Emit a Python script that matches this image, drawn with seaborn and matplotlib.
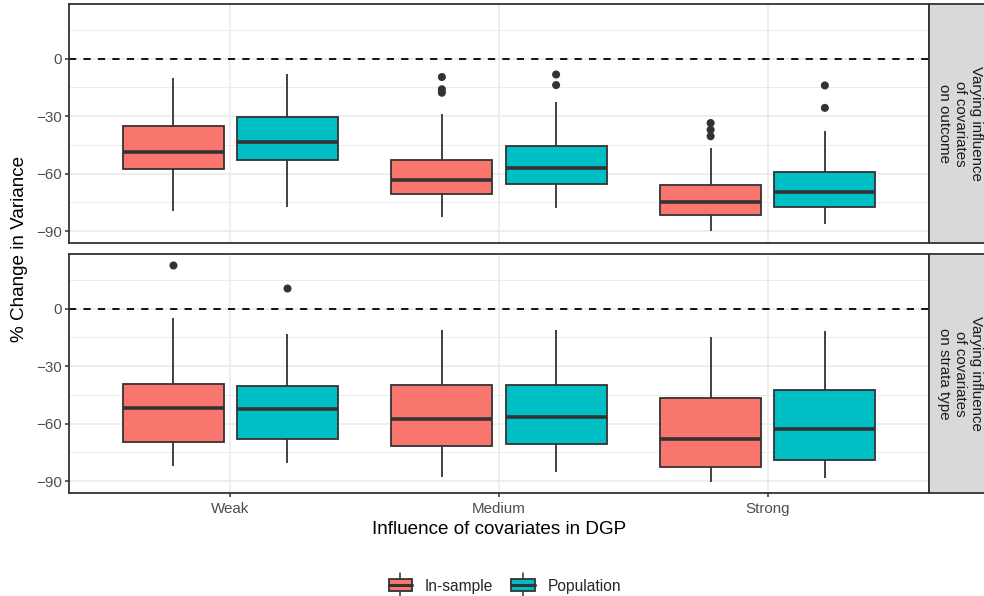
import numpy as np
import pandas as pd
import seaborn as sns
import matplotlib.pyplot as plt
from matplotlib.lines import Line2D
from matplotlib.patches import Patch, Rectangle
from matplotlib.ticker import FixedLocator

# =====================================
# DATA
# =====================================

strengths = ["Weak", "Medium", "Strong"]
methods = ["In-sample", "Population"]
colors = ["#F8766D", "#00BFC4"]
panel_labels = [
    "Varying influence\nof covariates\non outcome",
    "Varying influence\nof covariates\non strata type",
]
y_ticks = [0, -30, -60, -90]
y_minor = [15, -15, -45, -75]

# lower whisker, Q1, median, Q3, upper whisker -> Weak, Medium, Strong
outcome_in_sample = [
    [-79.5, -57.6, -48.8, -35.2, -10.3],
    [-82.4, -70.7, -63.3, -52.8, -29.0],
    [-89.7, -81.6, -75.0, -66.1, -46.7],
]
outcome_population = [
    [-77.2, -53.1, -43.3, -30.7, -7.8],
    [-78.1, -65.2, -57.1, -45.5, -22.6],
    [-86.4, -77.2, -69.5, -59.0, -37.9],
]
strata_in_sample = [
    [-82.1, -69.7, -51.7, -39.3, -4.8],
    [-87.6, -71.7, -57.6, -39.8, -11.0],
    [-90.2, -82.8, -67.8, -46.7, -14.8],
]
strata_population = [
    [-80.3, -67.9, -52.6, -40.2, -13.1],
    [-85.5, -70.4, -56.6, -39.8, -11.2],
    [-88.5, -79.0, -62.6, -42.6, -11.5],
]

# outliers
outcome_in_sample_out = [[], [-9.6, -16.0, -17.8], [-33.6, -37.1, -40.5]]
outcome_population_out = [[], [-8.3, -13.8], [-14.0, -25.7]]
strata_in_sample_out = [[22.9], [], []]
strata_population_out = [[10.9], [], []]


def long_frame(in_sample, population):
    rows = []
    for method, groups in zip(methods, [in_sample, population]):
        for strength, vals in zip(strengths, groups):
            for v in vals:
                rows.append((strength, method, v))
    return pd.DataFrame(rows, columns=["strength", "method", "value"])


panels = [
    (long_frame(outcome_in_sample, outcome_population),
     long_frame(outcome_in_sample_out, outcome_population_out)),
    (long_frame(strata_in_sample, strata_population),
     long_frame(strata_in_sample_out, strata_population_out)),
]

# =====================================
# STYLE
# =====================================

sns.set_theme(style="white")
plt.rcParams["font.family"] = ["Liberation Sans", "DejaVu Sans"]

dark = "#333333"
grid_col = "#EBEBEB"
lw = 1.3
box_width = 0.85

fig = plt.figure(figsize=(9.84, 5.96), dpi=100)
W, H = 984, 596


def px_axes(x0, y0, x1, y1):
    return fig.add_axes([x0 / W, 1 - y1 / H, (x1 - x0) / W, (y1 - y0) / H])


panel_rows = [(4, 243), (254, 493)]

for i, ((box_df, out_df), (top, bottom)) in enumerate(zip(panels, panel_rows)):
    ax = px_axes(69, top, 929, bottom)

    sns.boxplot(
        data=box_df, x="strength", y="value", hue="method",
        order=strengths, hue_order=methods, palette=colors,
        saturation=1, width=box_width, gap=0.115, whis=(0, 100),
        showfliers=False, showcaps=False, linewidth=lw, linecolor=dark,
        medianprops=dict(linewidth=2.6, color=dark),
        legend=False, ax=ax,
    )

    n_before = len(ax.collections)
    sns.stripplot(
        data=out_df, x="strength", y="value", hue="method",
        order=strengths, hue_order=methods, palette=[dark, dark],
        dodge=True, jitter=False, size=5.8, linewidth=0,
        legend=False, ax=ax,
    )
    # stripplot dodges with width .8, boxes use box_width
    for coll in ax.collections[n_before:]:
        off = coll.get_offsets()
        if len(off) == 0:
            continue
        base = np.round(off[:, 0])
        off[:, 0] = base + (off[:, 0] - base) * (box_width / 0.8)
        coll.set_offsets(off)

    ax.axhline(0, color="black", lw=lw, ls=(0, (4, 4)), zorder=1.5)

    ax.set_xlim(-0.6, 2.6)
    ax.set_ylim(-96.2, 28.5)
    ax.yaxis.set_major_locator(FixedLocator(y_ticks))
    ax.yaxis.set_minor_locator(FixedLocator(y_minor))
    ax.set_axisbelow(True)
    ax.grid(which="major", color=grid_col, lw=1.2)
    ax.grid(which="minor", axis="y", color=grid_col, lw=0.7)

    for sp in ax.spines.values():
        sp.set_color(dark)
        sp.set_linewidth(lw)

    ax.tick_params(axis="y", which="major", length=2.6, width=1.1,
                   color=dark, labelsize=10.9, labelcolor="#4D4D4D", pad=2.5, left=True)
    ax.tick_params(axis="y", which="minor", length=0)
    ax.set_ylabel("")

    if i == 0:
        ax.tick_params(axis="x", length=0, labelbottom=False)
        ax.set_xlabel("")
    else:
        ax.tick_params(axis="x", length=2.6, width=1.1, color=dark,
                       labelsize=10.9, labelcolor="#4D4D4D", pad=4.2, bottom=True)
        ax.set_xlabel("Influence of covariates in DGP", fontsize=13.6,
                      color="black", labelpad=3)

    # facet strip
    strip = px_axes(929, top, 991, bottom)
    strip.set_facecolor("#D9D9D9")
    strip.set_xticks([])
    strip.set_yticks([])
    for sp in strip.spines.values():
        sp.set_color(dark)
        sp.set_linewidth(lw)
    strip.spines["right"].set_visible(False)
    strip.text(0.5, 0.5, panel_labels[i], rotation=-90, ha="center",
               va="center", multialignment="center", fontsize=10.9,
               color="#1A1A1A", linespacing=1.15, transform=strip.transAxes)

fig.text(20 / W, 1 - 248.5 / H, "% Change in Variance", rotation=90,
         ha="center", va="center", fontsize=13.6, color="black")


# legend: ggplot-like boxplot key
class BoxKey:
    def legend_artist(self, legend, orig_handle, fontsize, handlebox):
        x0, y0 = -handlebox.xdescent, -handlebox.ydescent
        w, h = handlebox.width, handlebox.height
        tr = handlebox.get_transform()
        whisker = Line2D([x0 + w / 2, x0 + w / 2], [y0 - 0.45 * h, y0 + 1.45 * h],
                         color=dark, lw=1.1, transform=tr)
        box = Rectangle((x0, y0), w, h, facecolor=orig_handle.get_facecolor(),
                        edgecolor=dark, lw=lw, transform=tr)
        median = Line2D([x0, x0 + w], [y0 + h / 2, y0 + h / 2],
                        color=dark, lw=2.2, transform=tr)
        for a in (whisker, box, median):
            handlebox.add_artist(a)
        return box


handles = [Patch(facecolor=c, edgecolor=dark) for c in colors]

fig.legend(
    handles, methods, loc="center", bbox_to_anchor=(505 / W, 1 - 586 / H),
    ncol=2, frameon=False, fontsize=11.2,
    handlelength=1.5, handleheight=0.85, handletextpad=0.85,
    columnspacing=1.15,
    handler_map={Patch: BoxKey()},
)

fig.savefig("out.png", dpi=100)
